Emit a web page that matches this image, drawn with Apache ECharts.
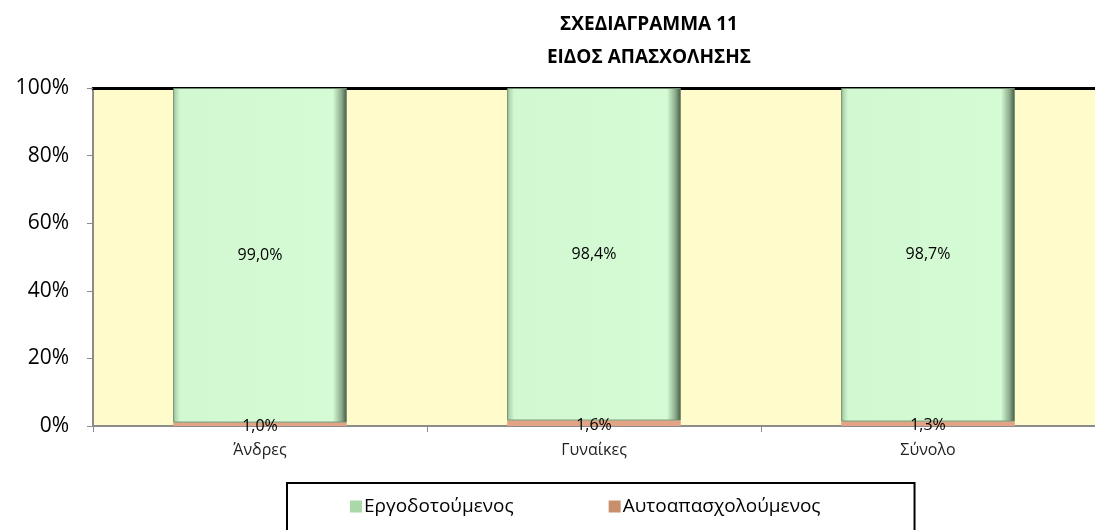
<!DOCTYPE html>
<html lang="el">
<head>
    <meta charset="UTF-8">
    <title>ΣΧΕΔΙΑΓΡΑΜΜΑ 11</title>
    <script src="https://cdn.jsdelivr.net/npm/echarts@6/dist/echarts.min.js"></script>
    <style>
        body{margin:0;background:#fff;}
        #main{width:1095px;height:530px;}
    </style>
</head>
<body>
<div id="main"></div>
<script>
    // categories and values
    var categories = ['Άνδρες', 'Γυναίκες', 'Σύνολο'];
    var employed = [99.0, 98.4, 98.7];      // Εργοδοτούμενος
    var selfEmployed = [1.0, 1.6, 1.3];     // Αυτοαπασχολούμενος
    var yTicks = [0, 20, 40, 60, 80, 100];

    function pct(v) {
        return v.toFixed(1).replace('.', ',') + '%';
    }

    var font = 'Open Sans';

    var myChart = echarts.init(document.getElementById('main'));
    var option = {
        animation: false,
        textStyle: {fontFamily: font},
        title: {
            text: 'ΣΧΕΔΙΑΓΡΑΜΜΑ 11\nΕΙΔΟΣ ΑΠΑΣΧΟΛΗΣΗΣ',
            left: 644,
            top: 3,
            textAlign: 'center',
            textStyle: {
                fontFamily: font,
                fontSize: 19,
                fontWeight: 'bold',
                color: '#000',
                lineHeight: 33
            }
        },
        legend: {
            left: 287,
            top: 483,
            padding: [14, 94, 30, 63],
            itemGap: 95,
            itemWidth: 12,
            itemHeight: 12,
            icon: 'rect',
            borderColor: '#000',
            borderWidth: 2,
            textStyle: {fontFamily: font, fontSize: 19, color: '#000', padding: [0, 0, 0, -3]},
            data: [
                {name: 'Εργοδοτούμενος', itemStyle: {color: '#a9d9a9', borderWidth: 0}},
                {name: 'Αυτοαπασχολούμενος', itemStyle: {color: '#c98e6c', borderWidth: 0}}
            ]
        },
        grid: {
            left: 93,
            right: 0,
            top: 88,
            bottom: 104,
            show: true,
            backgroundColor: '#FFFBCB',
            borderWidth: 0
        },
        xAxis: [{
            type: 'category',
            data: categories,
            axisLine: {lineStyle: {color: '#8c8c8c', width: 2}},
            axisTick: {show: true, length: 6, lineStyle: {color: '#8c8c8c'}},
            axisLabel: {fontFamily: font, fontSize: 16, color: '#222', margin: 16}
        }, {
            type: 'category',
            position: 'top',
            data: categories,
            axisLine: {lineStyle: {color: '#000', width: 3}},
            axisTick: {show: false},
            axisLabel: {show: false}
        }],
        yAxis: {
            type: 'value',
            min: 0,
            max: 100,
            interval: 20,
            axisLine: {show: true, lineStyle: {color: '#8c8c8c', width: 2}},
            axisTick: {show: true, length: 6, lineStyle: {color: '#8c8c8c'}},
            splitLine: {show: false},
            axisLabel: {
                fontFamily: font,
                fontSize: 21,
                color: '#000',
                margin: 24,
                formatter: function (v) {
                    return yTicks.indexOf(v) >= 0 ? v + '%' : '';
                }
            }
        },
        series: [{
            name: 'Αυτοαπασχολούμενος',
            type: 'bar',
            stack: 'total',
            data: selfEmployed,
            barWidth: '52%',
            itemStyle: {
                color: '#E2A485'
            },
            label: {
                show: true,
                position: 'inside',
                offset: [0, 2],
                fontFamily: font,
                fontSize: 16,
                color: '#000',
                formatter: function (p) { return pct(p.value); }
            }
        }, {
            name: 'Εργοδοτούμενος',
            type: 'bar',
            stack: 'total',
            data: employed,
            barWidth: '52%',
            itemStyle: {
                color: new echarts.graphic.LinearGradient(0, 0, 1, 0, [
                    {offset: 0, color: '#9fc79f'},
                    {offset: 0.04, color: '#d2f8d2'},
                    {offset: 0.92, color: '#d5fbd5'},
                    {offset: 0.97, color: '#8aa98a'},
                    {offset: 1, color: '#3f563f'}
                ]),
                borderColor: '#6e8a6e',
                borderWidth: 1
            },
            label: {
                show: true,
                position: 'inside',
                fontFamily: font,
                fontSize: 16,
                color: '#000',
                formatter: function (p) { return pct(p.value); }
            }
        }]
    };
    myChart.setOption(option);
</script>
</body>
</html>
